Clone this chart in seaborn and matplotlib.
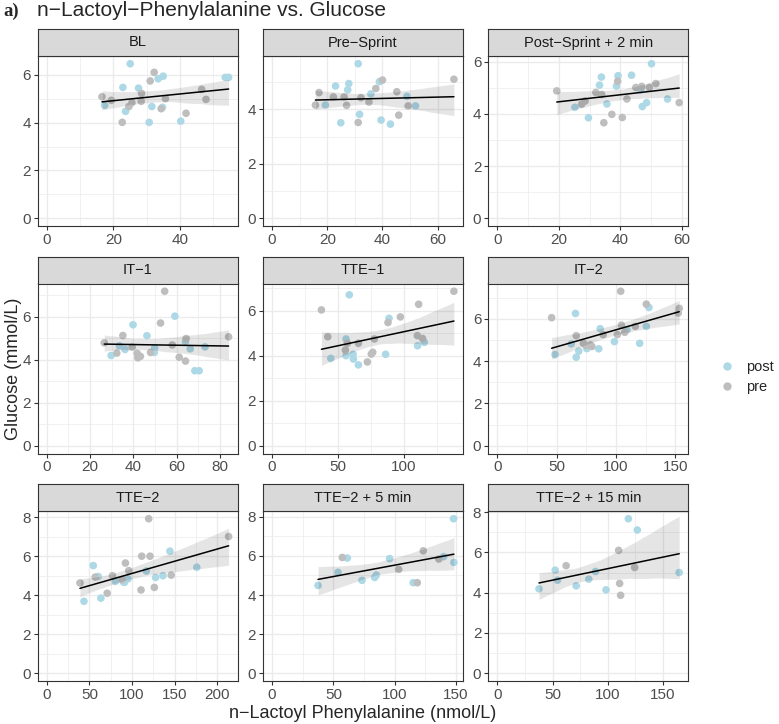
import numpy as np
import pandas as pd
import matplotlib
matplotlib.use('Agg')
import matplotlib.pyplot as plt
import seaborn as sns
from matplotlib.lines import Line2D

sns.set_theme(style='ticks')
plt.rcParams['font.family'] = ['Liberation Sans', 'DejaVu Sans']

# -------------------------- data --------------------------
stages = ['BL', 'Pre−Sprint', 'Post−Sprint + 2 min',
          'IT−1', 'TTE−1', 'IT−2',
          'TTE−2', 'TTE−2 + 5 min', 'TTE−2 + 15 min']

bl_post_x = [25.1, 22.9, 27.6, 33.5, 35.0, 53.7, 54.7, 17.4, 23.7, 31.6, 34.8, 30.8, 40.3]
bl_post_y = [6.46, 5.47, 5.44, 5.83, 5.94, 5.89, 5.89, 4.72, 4.47, 4.67, 4.64, 4.01, 4.06]
bl_pre_x = [16.6, 19.4, 32.3, 31.1, 28.5, 28.4, 25.6, 24.7, 22.7, 34.4, 35.7, 41.9, 46.6, 47.9]
bl_pre_y = [5.08, 4.93, 6.10, 5.74, 5.22, 4.89, 4.83, 4.67, 4.01, 4.58, 5.00, 4.39, 5.39, 4.97]

ps_post_x = [31.2, 23.0, 27.8, 27.4, 19.3, 24.9, 31.7, 35.8, 38.9, 39.5, 42.9, 48.9, 52.0]
ps_post_y = [5.68, 4.86, 4.95, 4.72, 4.16, 3.51, 3.82, 4.57, 5.02, 3.61, 3.46, 4.48, 4.13]
ps_pre_x = [15.7, 17.0, 22.2, 26.1, 27.0, 31.2, 32.2, 35.1, 37.6, 40.0, 45.2, 45.9, 49.3, 65.9]
ps_pre_y = [4.16, 4.62, 4.46, 4.46, 4.15, 3.52, 4.43, 4.27, 4.77, 5.08, 4.65, 3.79, 4.13, 5.11]

p2_post_x = [50.1, 33.8, 39.2, 43.6, 33.2, 38.7, 25.2, 29.6, 35.6, 47.1, 48.5, 55.3, 46.6]
p2_post_y = [5.92, 5.41, 5.46, 5.48, 5.10, 5.06, 4.25, 3.85, 4.38, 4.28, 4.43, 4.57, 4.92]
p2_pre_x = [19.3, 32.0, 33.9, 27.4, 28.5, 39.1, 37.2, 40.6, 34.6, 42.1, 45.0, 46.9, 49.4, 51.5, 59.1]
p2_pre_y = [4.88, 4.82, 4.74, 4.37, 4.49, 5.25, 3.98, 3.86, 3.66, 4.57, 5.01, 5.05, 5.01, 5.16, 4.43]

it1_post_x = [39.8, 59.1, 46.2, 29.7, 33.5, 36.1, 49.6, 49.8, 64.0, 66.2, 73.0, 68.3, 70.3]
it1_post_y = [5.63, 6.03, 5.12, 4.20, 4.65, 4.48, 4.34, 4.56, 4.85, 4.51, 4.60, 3.49, 3.49]
it1_pre_x = [26.5, 35.1, 32.3, 39.4, 41.7, 42.0, 43.2, 47.9, 52.5, 54.4, 57.9, 61.1, 64.3, 64.0, 83.9]
it1_pre_y = [4.79, 5.13, 4.31, 4.59, 4.30, 4.09, 4.16, 4.34, 5.71, 7.19, 4.69, 4.12, 4.99, 3.94, 5.07]

tte1_post_x = [58.7, 88.9, 56.2, 44.6, 56.2, 61.5, 61.8, 65.6, 86.3, 110.6, 115.7]
tte1_post_y = [6.70, 5.66, 4.74, 3.88, 4.00, 4.06, 3.85, 3.59, 4.06, 4.44, 4.59]
tte1_pre_x = [37.5, 42.3, 55.7, 57.2, 65.6, 72.4, 75.4, 76.5, 77.7, 88.1, 97.5, 110.4, 111.4, 114.4, 138.2]
tte1_pre_y = [6.03, 4.84, 4.25, 4.55, 4.55, 3.72, 4.07, 4.15, 4.74, 5.47, 5.72, 4.89, 6.28, 4.76, 6.86]

it2_post_x = [65.8, 86.6, 109.2, 127.7, 125.5, 62.2, 48.5, 68.6, 66.4, 75.4, 85.4, 98.6, 119.9]
it2_post_y = [6.25, 5.53, 5.47, 6.53, 5.64, 4.81, 4.31, 4.47, 4.18, 4.59, 4.58, 4.92, 4.84]
it2_pre_x = [45.7, 66.4, 72.5, 74.5, 78.4, 79.6, 89.1, 101.1, 104.5, 103.9, 107.3, 116.2, 125.5, 153.2, 152.4]
it2_pre_y = [6.05, 5.20, 4.84, 4.73, 4.77, 4.69, 5.25, 5.25, 5.70, 7.30, 5.36, 5.64, 6.69, 6.49, 6.27]

tte2_post_x = [54.5, 60.3, 43.6, 63.4, 80.5, 89.9, 91.1, 95.3, 116.7, 127.6, 136.2, 144.4, 175.9]
tte2_post_y = [5.52, 4.96, 3.69, 3.85, 4.71, 4.68, 4.66, 4.84, 5.24, 4.91, 5.00, 6.26, 5.43]
tte2_pre_x = [38.9, 56.8, 70.8, 77.0, 88.3, 92.2, 96.1, 111.3, 110.5, 121.0, 119.5, 126.1, 145.9, 213.2]
tte2_pre_y = [4.63, 4.93, 4.10, 5.00, 4.80, 5.65, 5.26, 6.00, 4.27, 6.00, 7.92, 4.40, 5.03, 7.01]

t5_post_x = [148.1, 61.4, 95.9, 53.8, 37.5, 73.4, 83.7, 85.1, 115.2, 140.0, 148.4]
t5_post_y = [7.90, 5.89, 5.86, 5.16, 4.49, 4.75, 4.90, 5.02, 4.63, 5.96, 5.67]
t5_pre_x = [57.3, 103.3, 118.5, 123.4, 136.1]
t5_pre_y = [5.92, 5.31, 4.63, 6.26, 5.84]

t15_post_x = [118.7, 126.8, 52.4, 54.5, 71.4, 82.8, 88.9, 37.7, 98.5, 164.8]
t15_post_y = [7.67, 7.11, 5.12, 4.62, 4.34, 4.67, 5.05, 4.19, 4.14, 5.00]
t15_pre_x = [62.3, 109.9, 110.8, 111.7, 124.4]
t15_pre_y = [5.34, 6.10, 4.46, 3.87, 5.25]

post_x = [bl_post_x, ps_post_x, p2_post_x, it1_post_x, tte1_post_x, it2_post_x, tte2_post_x, t5_post_x, t15_post_x]
post_y = [bl_post_y, ps_post_y, p2_post_y, it1_post_y, tte1_post_y, it2_post_y, tte2_post_y, t5_post_y, t15_post_y]
pre_x = [bl_pre_x, ps_pre_x, p2_pre_x, it1_pre_x, tte1_pre_x, it2_pre_x, tte2_pre_x, t5_pre_x, t15_pre_x]
pre_y = [bl_pre_y, ps_pre_y, p2_pre_y, it1_pre_y, tte1_pre_y, it2_pre_y, tte2_pre_y, t5_pre_y, t15_pre_y]

# tick spacing per panel (x), y always 2
x_steps = [20, 20, 20, 20, 50, 50, 50, 50, 50]

frames = []
for stage, px, py, qx, qy in zip(stages, post_x, post_y, pre_x, pre_y):
    frames.append(pd.DataFrame({'stage': stage, 'x': px, 'y': py, 'group': 'post'}))
    frames.append(pd.DataFrame({'stage': stage, 'x': qx, 'y': qy, 'group': 'pre'}))
df = pd.concat(frames, ignore_index=True)

palette = {'post': '#ADD8E6', 'pre': '#BEBEBE'}

# -------------------------- layout (pixels) --------------------------
W, H = 779, 724
fig = plt.figure(figsize=(W / 100, H / 100), dpi=100)

col_left = [37.7, 263.0, 488.3]
row_top = [56, 283.5, 511]
pw, ph, sh = 200, 170, 27

for i, stage in enumerate(stages):
    r, c = divmod(i, 3)
    x0, y0 = col_left[c], row_top[r]
    ax = fig.add_axes([x0 / W, 1 - (y0 + ph) / H, pw / W, ph / H])
    sax = fig.add_axes([x0 / W, 1 - y0 / H, pw / W, sh / H])
    d = df[df.stage == stage]

    sns.scatterplot(data=d, x='x', y='y', hue='group', palette=palette, s=30,
                    linewidth=0, ax=ax, legend=False, zorder=2)
    sns.regplot(data=d, x='x', y='y', scatter=False, color='black', ci=95, seed=3,
                line_kws={'lw': 1.1, 'zorder': 4}, ax=ax)
    for coll in ax.collections[1:]:
        coll.set_zorder(3)
        coll.set_alpha(0.1)

    # ggplot-like limits: include 0, expand 5%
    xmax, ymax = d.x.max(), d.y.max()
    ax.set_xlim(-0.05 * xmax, 1.05 * xmax)
    ax.set_ylim(-0.05 * ymax, 1.05 * ymax)

    xs = x_steps[i]
    ax.set_xticks(np.arange(0, 1.05 * xmax, xs))
    ax.set_xticks(np.arange(0, 1.05 * xmax, xs / 2), minor=True)
    ax.set_yticks(np.arange(0, 1.05 * ymax, 2))
    ax.set_yticks(np.arange(0, 1.05 * ymax, 1), minor=True)
    ax.set_axisbelow(True)
    ax.grid(which='major', color='#EBEBEB', lw=1.0)
    ax.grid(which='minor', color='#EBEBEB', lw=0.5)
    ax.tick_params(which='major', length=3, width=0.8, color='#333333',
                   labelsize=11, labelcolor='#4D4D4D', pad=2, bottom=True, left=True)
    ax.tick_params(which='minor', length=0)
    for sp in ax.spines.values():
        sp.set_visible(True)
        sp.set_color('#333333')
        sp.set_linewidth(0.8)
    ax.set_xlabel('')
    ax.set_ylabel('')

    sax.set_facecolor('#D9D9D9')
    sax.set_xticks([])
    sax.set_yticks([])
    for sp in sax.spines.values():
        sp.set_visible(True)
        sp.set_color('#333333')
        sp.set_linewidth(0.8)
    sax.text(0.5, 0.5, stage, ha='center', va='center', fontsize=10.5, color='#1A1A1A',
             transform=sax.transAxes)

# -------------------------- titles / legend --------------------------
fig.text((col_left[0] + col_left[2] + pw) / 2 / W, 1 - 713 / H,
         'n−Lactoyl Phenylalanine (nmol/L)', ha='center', va='center', fontsize=13)
fig.text(14 / W, 1 - 368.5 / H, 'Glucose (mmol/L)', ha='center', va='center',
         rotation=90, fontsize=13)
fig.text(37 / W, 1 - 11 / H, 'n−Lactoyl−Phenylalanine vs. Glucose', ha='left',
         va='center', fontsize=15)
fig.text(3 / W, 1 - 11 / H, 'a)', ha='left', va='center', fontsize=13.5,
         family=['Liberation Serif', 'DejaVu Serif'], fontweight='bold')

handles = [Line2D([], [], marker='o', ls='', color=palette[g], markeredgewidth=0,
                  markersize=6, label=g) for g in ['post', 'pre']]
fig.legend(handles=handles, loc='center left', bbox_to_anchor=(707 / W, 1 - 377 / H),
           frameon=False, fontsize=10.5, handletextpad=0.8, labelspacing=0.4,
           handlelength=1.0)

fig.savefig('out.png', dpi=100)
